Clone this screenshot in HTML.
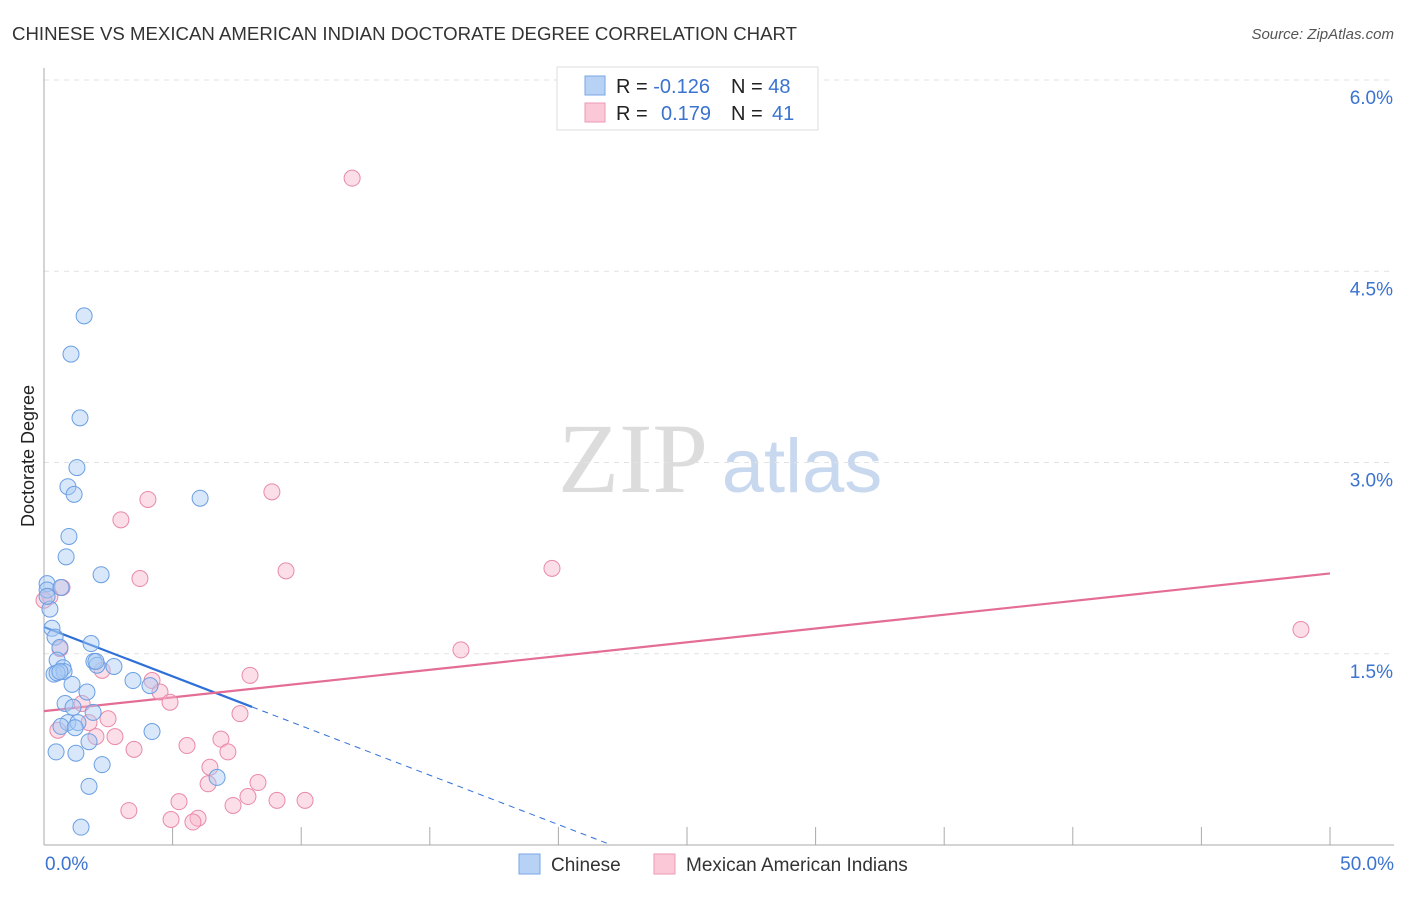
<!DOCTYPE html>
<html><head><meta charset="utf-8"><style>
body{margin:0;background:#fff;font-family:"Liberation Sans",sans-serif;}
svg text{font-family:"Liberation Sans",sans-serif;}
</style></head><body>
<svg id="chart" width="1406" height="892" xmlns="http://www.w3.org/2000/svg">
<text x="12" y="40" font-size="18" fill="#333" textLength="785" lengthAdjust="spacingAndGlyphs">CHINESE VS MEXICAN AMERICAN INDIAN DOCTORATE DEGREE CORRELATION CHART</text>
<text x="1394" y="39" font-size="15" fill="#555" font-style="italic" text-anchor="end">Source: ZipAtlas.com</text>
<text x="34" y="456" font-size="18" fill="#222" text-anchor="middle" transform="rotate(-90 34 456)">Doctorate Degree</text>
<g>
<text x="633" y="492" font-size="100" fill="#dcdcdc" font-family="Liberation Serif" text-anchor="middle" style="font-family:'Liberation Serif',serif">ZIP</text>
<text x="802" y="492" font-size="76" fill="#c8d8ef" text-anchor="middle">atlas</text>
</g>
<g id="grid"></g><g id="axes"></g><g id="trends"></g><g id="points"></g>
<g>
<rect x="557" y="67" width="261" height="63" fill="#fff" stroke="#ddd"/>
<rect x="585" y="76" width="20" height="19" fill="#b8d2f5" stroke="#7aa6e6"/>
<rect x="585" y="103" width="20" height="19" fill="#fac8d6" stroke="#ee9ab4"/>
<text x="616" y="93" font-size="20" fill="#222">R = <tspan fill="#3a73d0">-0.126</tspan></text>
<text x="731" y="93" font-size="20" fill="#222">N = <tspan fill="#3a73d0">48</tspan></text>
<text x="616" y="120" font-size="20" fill="#222">R = <tspan fill="#3a73d0" x="661">0.179</tspan></text>
<text x="731" y="120" font-size="20" fill="#222">N = <tspan fill="#3a73d0" x="772">41</tspan></text>
</g>
<g>
<rect x="519" y="854" width="21" height="20" fill="#b8d2f5" stroke="#7aa6e6"/>
<text x="551" y="871" font-size="19" fill="#333">Chinese</text>
<rect x="654" y="854" width="21" height="20" fill="#fac8d6" stroke="#ee9ab4"/>
<text x="686" y="871" font-size="19" fill="#333">Mexican American Indians</text>
</g>
</svg>
<script>
const yTicks=[1.5,3.0,4.5,6.0];
const yTickLabels=["1.5%","3.0%","4.5%","6.0%"];
const xTicks=[0,5,10,15,20,25,30,35,40,45,50];
const xEndLabels=["0.0%","50.0%"];
const chineseX=[1.56,1.05,1.40,1.28,0.93,1.17,0.97,0.86,2.22,6.07,0.12,0.12,0.66,0.23,0.31,0.43,0.62,1.83,0.51,1.94,2.06,2.72,0.74,0.39,0.78,3.46,4.12,1.09,1.67,0.82,1.13,1.91,0.93,1.32,0.66,1.21,4.20,1.75,0.47,1.24,2.26,6.73,1.75,1.44,0.51,0.12,0.62,2.02];
const chineseY=[4.15,3.85,3.35,2.96,2.81,2.75,2.42,2.26,2.12,2.72,2.05,2.00,2.02,1.85,1.70,1.63,1.55,1.58,1.45,1.44,1.41,1.40,1.39,1.34,1.36,1.29,1.25,1.26,1.20,1.11,1.08,1.04,0.96,0.96,0.93,0.92,0.89,0.81,0.73,0.72,0.63,0.53,0.46,0.14,1.35,1.95,1.36,1.44];
const mexX=[11.98,8.86,4.04,2.99,3.73,9.41,19.75,48.87,0.70,0.23,0.62,16.21,8.01,2.26,4.20,4.51,4.90,7.62,2.49,1.48,1.75,2.02,2.76,3.50,5.56,6.88,7.15,6.45,6.38,8.32,7.93,5.25,9.06,10.15,7.35,3.30,4.94,5.99,5.79,0.54,0.00];
const mexY=[5.23,2.77,2.71,2.55,2.09,2.15,2.17,1.69,2.02,1.95,1.54,1.53,1.33,1.37,1.29,1.20,1.12,1.03,0.99,1.11,0.96,0.85,0.85,0.75,0.78,0.83,0.73,0.61,0.48,0.49,0.38,0.34,0.35,0.35,0.31,0.27,0.20,0.21,0.18,0.90,1.92];
const chineseTrend=[1.71,-0.0775]; // intercept, slope
const chineseTrendSolidEnd=8.09;
const mexTrend=[1.05,0.0216];
const NS="http://www.w3.org/2000/svg";
const X0=44,X1=1330,YB=845,YT=80;
const xs=v=>X0+(v/50)*(X1-X0);
const ys=v=>YB-(v/6)*(YB-YT);
function mk(tag,attrs,parent){const e=document.createElementNS(NS,tag);for(const k in attrs)e.setAttribute(k,attrs[k]);document.getElementById(parent).appendChild(e);return e;}
yTicks.forEach((t,i)=>{
 const l=mk('line',{x1:X0,x2:1394,y1:ys(t),y2:ys(t),stroke:'#e2e2e2','stroke-dasharray':'5,5'},'grid');
 
 
 const tx=mk('text',{x:1393,y:ys(t)+24,'font-size':19,fill:'#3a73d0','text-anchor':'end'},'grid');
 tx.textContent=yTickLabels[i];
 
 
});
const ya=mk('line',{x1:X0,x2:X0,y1:68,y2:YB,stroke:'#aaa'},'axes');


const xa=mk('line',{x1:X0,x2:1394,y1:YB,y2:YB,stroke:'#aaa'},'axes');


xTicks.forEach(t=>{
 const l=mk('line',{x1:xs(t),x2:xs(t),y1:YB,y2:827,stroke:'#aaa'},'axes');
 
 
});
[[0,'start',45],[50,'end',1394]].forEach((d,i)=>{
 const tx=mk('text',{x:d[2],y:870,'font-size':19,fill:'#3a73d0','text-anchor':d[1]},'axes');
 tx.textContent=xEndLabels[i];
 
 
});
function addPts(X,Y,fill,stroke,name){X.forEach((x,i)=>{
 const c=mk('circle',{cx:xs(x),cy:ys(Y[i]),r:8,fill:fill,'fill-opacity':0.45,stroke:stroke,'stroke-width':1},'points');
 
 
});}
addPts(mexX,mexY,'#f7b6c9','#e98aa8','mexican-point');
addPts(chineseX,chineseY,'#a9c9f3','#6b9fe3','chinese-point');
const cz=-chineseTrend[0]/chineseTrend[1];
const t1=mk('line',{x1:xs(0),y1:ys(chineseTrend[0]),x2:xs(chineseTrendSolidEnd),y2:ys(chineseTrend[0]+chineseTrend[1]*chineseTrendSolidEnd),stroke:'#2f6fd8','stroke-width':2.2},'trends');


const t2=mk('line',{x1:xs(chineseTrendSolidEnd),y1:ys(chineseTrend[0]+chineseTrend[1]*chineseTrendSolidEnd),x2:xs(cz),y2:ys(0),stroke:'#2f6fd8','stroke-width':1,'stroke-dasharray':'6,5'},'trends');


const t3=mk('line',{x1:xs(0),y1:ys(mexTrend[0]),x2:xs(50),y2:ys(mexTrend[0]+mexTrend[1]*50),stroke:'#e46d96','stroke-width':2.2},'trends');


</script>
</body></html>
